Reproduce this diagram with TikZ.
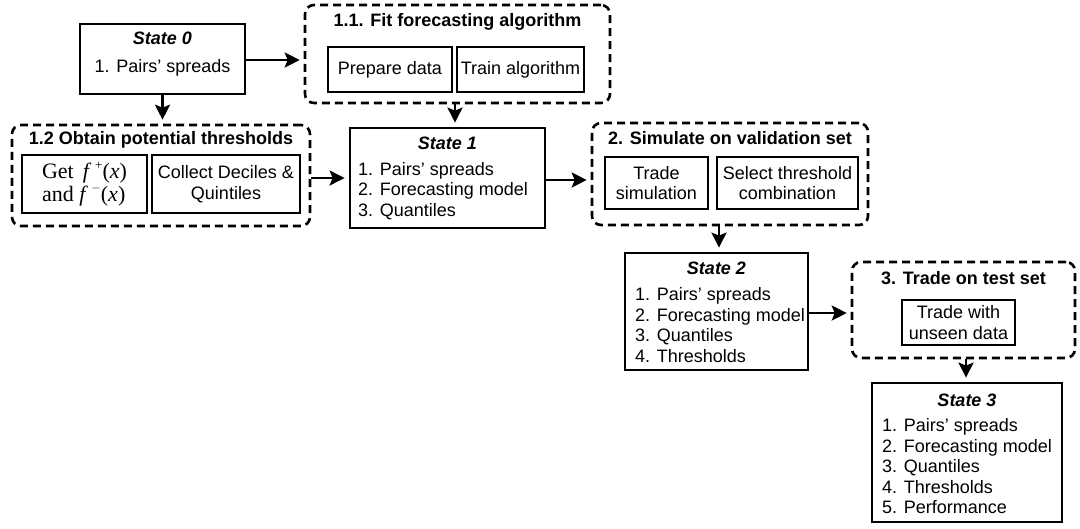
\documentclass[tikz,border=0pt]{standalone}
\usepackage{fontspec}
\setmainfont{Liberation Sans}
\newfontfamily\serifnf{Liberation Serif}
\usetikzlibrary{arrows.meta,calc}
\begin{document}
\begin{tikzpicture}[x=1pt,y=-1pt,
  font=\fontsize{18}{20.5}\selectfont,
  sbox/.style={draw, line width=2.8pt, inner sep=0pt},
  grp/.style={draw, line width=2.6pt, dash pattern=on 8pt off 5pt, rounded corners=9pt, inner sep=0pt},
  ibox/.style={draw, line width=2.6pt, inner sep=0pt, align=center},
  ttl/.style={font=\fontsize{18}{20.5}\selectfont\bfseries, inner sep=0pt},
  stl/.style={font=\fontsize{18}{20.5}\selectfont\bfseries\itshape, inner sep=0pt},
  lst/.style={align=left, anchor=west, inner sep=0pt},
  arr/.style={-{Stealth[length=15pt,width=15pt,inset=3pt]}, line width=2.6pt, shorten >=4pt}]
\useasboundingbox (0,0) rectangle (1080,528);

% State 0
\node[sbox, minimum width=165pt, minimum height=70pt] (s0) at (162.5,59) {};
\node[stl] (s0t) at (162.5,38) {State 0};
\node[inner sep=0pt] (s0l) at (162.5,68) {1. Pairs' spreads};

% 1.1 group
\node[grp, minimum width=305pt, minimum height=98pt] (g11) at (457.5,54) {};
\node[ttl] (g11t) at (457.5,22) {1.1. Fit forecasting algorithm};
\node[ibox, minimum width=124pt, minimum height=45pt] (prep) at (390,69.5) {Prepare data};
\node[ibox, minimum width=127pt, minimum height=45pt] (train) at (520.5,69.5) {Train algorithm};

% 1.2 group
\node[grp, minimum width=298pt, minimum height=101pt] (g12) at (161,175.5) {};
\node[ttl] (g12t) at (161,140) {1.2 Obtain potential thresholds};
\node[ibox, minimum width=125pt, minimum height=58pt, align=left,
  font=\serifnf\fontsize{22}{20}\selectfont] (getf) at (84.5,184)
  {Get \,\textit{f}\,\raisebox{0.45em}{\fontsize{13}{13}\selectfont +}(\textit{x})\\and \textit{f}\,\raisebox{0.45em}{\fontsize{13}{13}\selectfont $-$}(\textit{x})};
\node[ibox, minimum width=148pt, minimum height=58pt] (coll) at (226,184) {Collect Deciles \&\\Quintiles};

% State 1
\node[sbox, minimum width=195pt, minimum height=100pt] (s1) at (447.5,178) {};
\node[stl] (s1t) at (447.5,143) {State 1};
\node[lst] (s1l) at (358,191) {1. Pairs' spreads\\2. Forecasting model\\3. Quantiles};

% 2 group
\node[grp, minimum width=276pt, minimum height=102pt] (g2) at (730,174) {};
\node[ttl] (g2t) at (730,138) {2. Simulate on validation set};
\node[ibox, minimum width=103pt, minimum height=52pt] (tsim) at (656.5,183) {Trade\\simulation};
\node[ibox, minimum width=141pt, minimum height=52pt] (sel) at (787.5,183) {Select threshold\\combination};

% State 2
\node[sbox, minimum width=183pt, minimum height=117pt] (s2) at (716.5,311.5) {};
\node[stl] (s2t) at (716.5,268) {State 2};
\node[lst] (s2l) at (635,325) {1. Pairs' spreads\\2. Forecasting model\\3. Quantiles\\4. Thresholds};

% 3 group
\node[grp, minimum width=223pt, minimum height=96pt] (g3) at (963.5,310) {};
\node[ttl] (g3t) at (963.5,278) {3. Trade on test set};
\node[ibox, minimum width=113pt, minimum height=45pt] (twu) at (958.5,322.5) {Trade with\\unseen data};

% State 3
\node[sbox, minimum width=190pt, minimum height=139pt] (s3) at (967,452.5) {};
\node[stl] (s3t) at (967,400) {State 3};
\node[lst] (s3l) at (882,466.5) {1. Pairs' spreads\\2. Forecasting model\\3. Quantiles\\4. Thresholds\\5. Performance};

% arrows
\draw[arr] (s0.east |- 0,60) -- (g11.west |- 0,60);
\draw[arr] (s0.south) -- (s0.south |- g12.north);
\draw[arr] (g11.south -| 455,0) -- (s1.north -| 455,0);
\draw[arr] (g12.east |- 0,178) -- (s1.west |- 0,178);
\draw[arr] (s1.east |- 0,180) -- (g2.west |- 0,180);
\draw[arr] (g2.south -| 719,0) -- (s2.north -| 719,0);
\draw[arr] (s2.east |- 0,313) -- (g3.west |- 0,313);
\draw[arr] (g3.south -| 966,0) -- (s3.north -| 966,0);
\end{tikzpicture}
\end{document}
